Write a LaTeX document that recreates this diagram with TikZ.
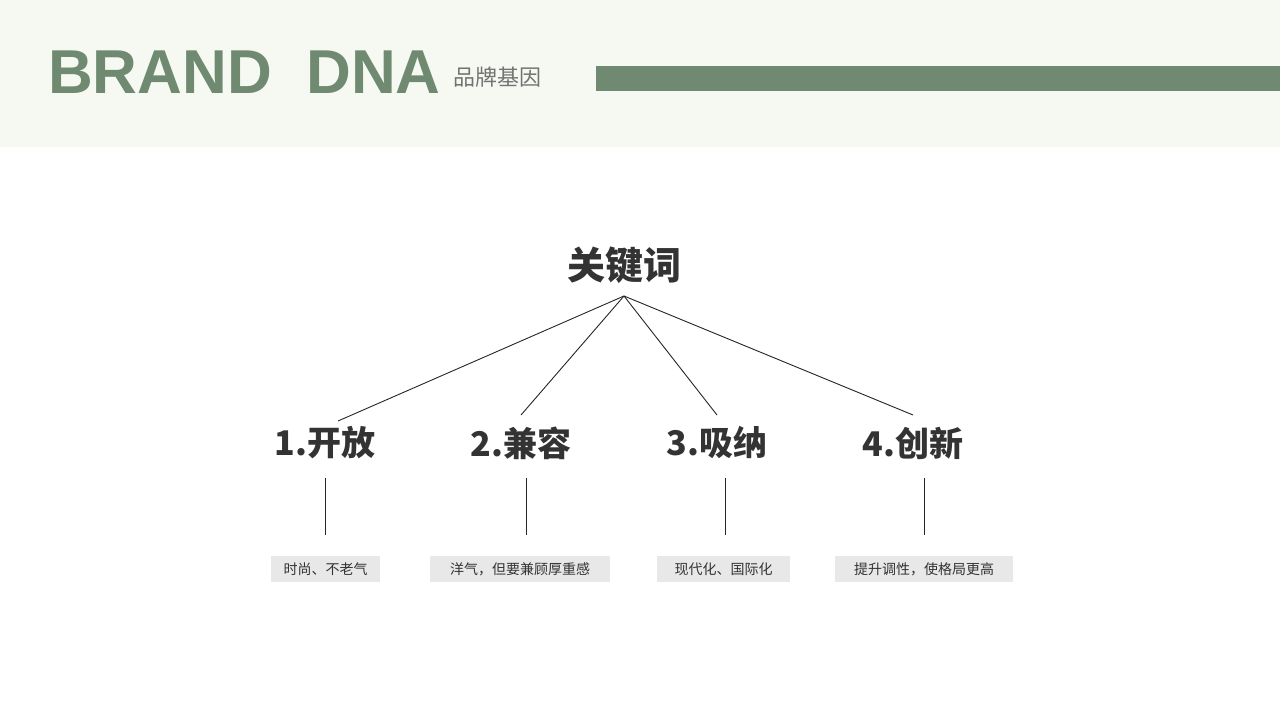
\documentclass[tikz,border=0pt]{standalone}
\usepackage{fontspec}
\setmainfont{Liberation Sans}
\newfontfamily\cjk{Noto Sans CJK SC}
\definecolor{hdr}{HTML}{F5F9F2}
\definecolor{grn}{HTML}{6F8A70}
\definecolor{txt}{HTML}{333333}
\definecolor{boxg}{HTML}{E8E8E8}
\tikzset{
 item/.style={font=\cjk\bfseries\fontsize{34}{36}\selectfont, text=txt, inner sep=0pt},
 tag/.style={fill=boxg, font=\cjk\fontsize{14}{16}\selectfont, text=txt, inner sep=0pt, minimum height=26pt},
 conn/.style={draw=black!85, line width=0.9pt}
}
\begin{document}
\begin{tikzpicture}[x=1pt,y=-1pt]
\useasboundingbox (0,0) rectangle (1280,720);
\fill[white] (0,0) rectangle (1280,720);
\fill[hdr] (0,0) rectangle (1280,147);
\node[anchor=west, inner sep=0pt, text=grn, font=\bfseries\fontsize{62}{64}\selectfont] (title) at (48,72) {BRAND\ \ DNA};
\node[anchor=west, inner sep=0pt, text=gray!90!black, font=\cjk\fontsize{22}{24}\selectfont] (sub) at (453,77) {品牌基因};
\fill[grn] (596,66) rectangle (1280,91);
\node[item, font=\cjk\bfseries\fontsize{38}{40}\selectfont] (root) at (624,265) {关键词};
\coordinate (r) at (624,296);
\node[item] (i1) at (325,443) {1.开放};
\node[item] (i2) at (521,443) {2.兼容};
\node[item] (i3) at (717,443) {3.吸纳};
\node[item] (i4) at (913,443) {4.创新};
\coordinate (t1) at (338,421);
\coordinate (t2) at (521,415);
\coordinate (t3) at (717,415);
\coordinate (t4) at (913,415);
\foreach \i in {1,...,4} \draw[conn] (r) -- (t\i);
\node[tag, minimum width=109pt] (b1) at (325.5,569) {时尚、不老气};
\node[tag, minimum width=180pt] (b2) at (520,569) {洋气，但要兼顾厚重感};
\node[tag, minimum width=133pt] (b3) at (723.5,569) {现代化、国际化};
\node[tag, minimum width=178pt] (b4) at (924,569) {提升调性，使格局更高};
\coordinate (u1) at (325,478); \coordinate (d1) at (325,535);
\coordinate (u2) at (526,478); \coordinate (d2) at (526,535);
\coordinate (u3) at (725,478); \coordinate (d3) at (725,535);
\coordinate (u4) at (924,478); \coordinate (d4) at (924,535);
\foreach \i in {1,...,4} \draw[conn] (u\i) -- (d\i);
\end{tikzpicture}
\end{document}
